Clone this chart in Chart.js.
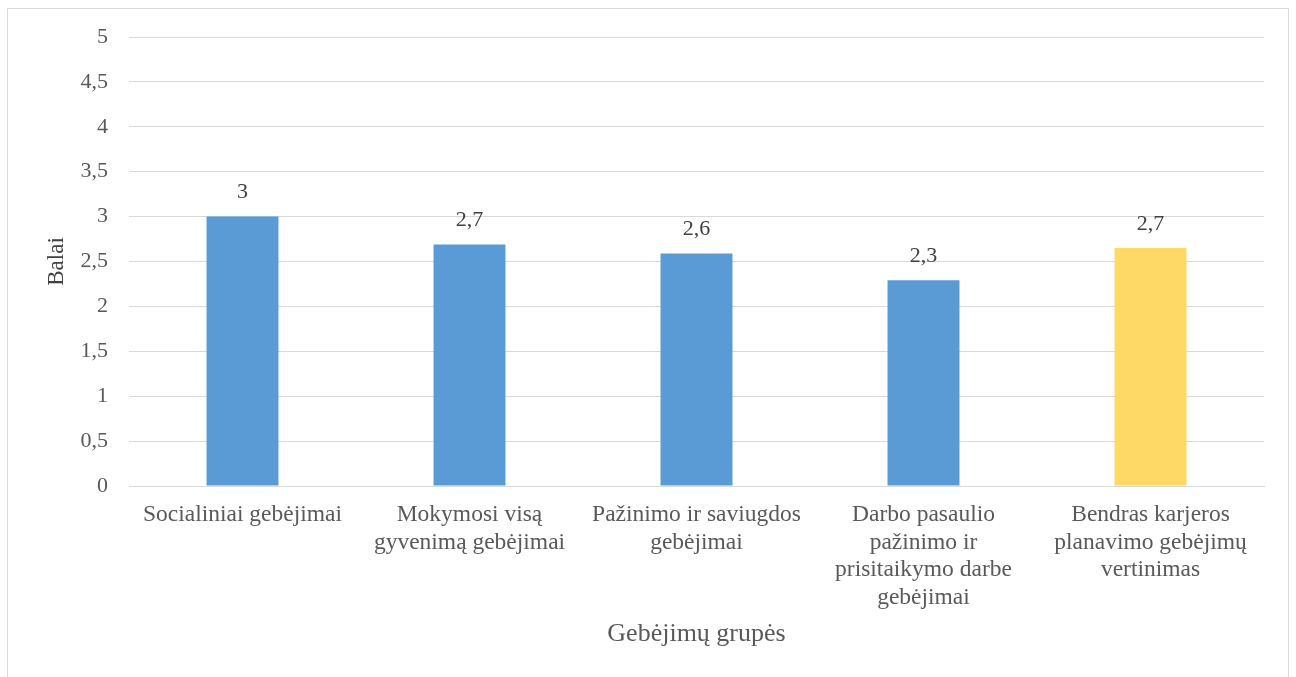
<!DOCTYPE html>
<html>
<head>
<meta charset="utf-8">
<script src="https://cdn.jsdelivr.net/npm/chart.js@4/dist/chart.umd.min.js"></script>
<style>
  html, body { margin: 0; padding: 0; background: #ffffff; }
  #wrap { position: relative; width: 1296px; height: 677px; overflow: hidden; }
  #frame { position: absolute; left: 7px; top: 8px; width: 1282px; height: 700px; border: 1px solid #d9d9d9; box-sizing: border-box; }
  canvas { position: absolute; left: 0; top: 0; }
</style>
</head>
<body>
<div id="wrap">
  <div id="frame"></div>
  <canvas id="c" width="1296" height="677"></canvas>
</div>
<script>
const categories = [
  ["Socialiniai gebėjimai"],
  ["Mokymosi visą", "gyvenimą gebėjimai"],
  ["Pažinimo ir saviugdos", "gebėjimai"],
  ["Darbo pasaulio", "pažinimo ir", "prisitaikymo darbe", "gebėjimai"],
  ["Bendras karjeros", "planavimo gebėjimų", "vertinimas"]
];
const values = [3.0, 2.69, 2.59, 2.29, 2.65];
const valueLabels = ["3", "2,7", "2,6", "2,3", "2,7"];
const barColors = ["#5B9BD5", "#5B9BD5", "#5B9BD5", "#5B9BD5", "#FFD966"];
const yTicks = [0, 0.5, 1, 1.5, 2, 2.5, 3, 3.5, 4, 4.5, 5];
const yTitle = "Balai";
const xTitle = "Gebėjimų grupės";

const FONT = "'Liberation Serif', 'Times New Roman', serif";

const dataLabelPlugin = {
  id: 'dataLabels',
  afterDatasetsDraw(chart) {
    const ctx = chart.ctx;
    const meta = chart.getDatasetMeta(0);
    ctx.save();
    ctx.font = "22px " + FONT;
    ctx.fillStyle = "#404040";
    ctx.textAlign = "center";
    ctx.textBaseline = "middle";
    meta.data.forEach((bar, i) => {
      ctx.fillText(valueLabels[i], bar.x, bar.y - 24);
    });
    ctx.restore();
  }
};

new Chart(document.getElementById('c'), {
  type: 'bar',
  data: {
    labels: categories,
    datasets: [{
      data: values,
      backgroundColor: barColors,
      borderWidth: 0,
      barPercentage: 0.317,
      categoryPercentage: 1.0
    }]
  },
  options: {
    responsive: false,
    animation: false,
    layout: { padding: { left: 0, right: 32, top: 37, bottom: 0 } },
    plugins: { legend: { display: false }, tooltip: { enabled: false } },
    scales: {
      y: {
        min: 0, max: 5,
        afterBuildTicks(scale) { scale.ticks = yTicks.map(v => ({ value: v })); },
        afterFit(scale) { scale.width = 129; },
        border: { display: false },
        grid: { color: "#d9d9d9", lineWidth: 1, drawTicks: false },
        ticks: {
          padding: 21,
          color: "#595959",
          font: { family: FONT, size: 22 },
          callback: v => String(v).replace('.', ',')
        },
        title: {
          display: true, text: yTitle, color: "#404040",
          font: { family: FONT, size: 23 },
          padding: { top: 43, bottom: 0 }
        }
      },
      x: {
        afterFit(scale) { scale.height = 191; },
        border: { display: true, color: "#d9d9d9" },
        grid: { display: false, drawTicks: false },
        ticks: {
          padding: 15,
          color: "#595959",
          maxRotation: 0, autoSkip: false,
          font: { family: FONT, size: 23.5, lineHeight: 1.175 }
        },
        title: {
          display: true, text: xTitle, color: "#595959",
          font: { family: FONT, size: 26 },
          padding: { top: 0, bottom: 27 }
        }
      }
    }
  },
  plugins: [dataLabelPlugin]
});
</script>
</body>
</html>
